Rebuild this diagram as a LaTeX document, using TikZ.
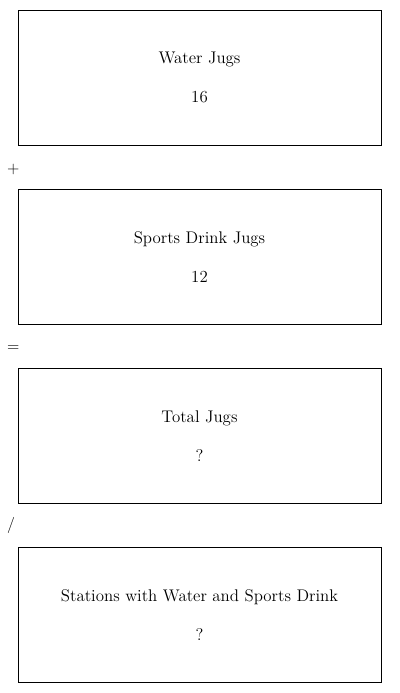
\documentclass[tikz,border=0pt]{standalone}
\usetikzlibrary{positioning,calc}
\tikzset{
  jugbox/.style   = {rectangle, draw=black, line width=0.7pt, outer sep=0pt,
                     minimum width=9.075cm, minimum height=3.375cm, inner sep=0pt},
  jugtitle/.style = {font=\fontsize{12}{14}\selectfont, inner sep=1pt},
  jugval/.style   = {font=\fontsize{12}{14}\selectfont, inner sep=1pt},
  opsign/.style   = {font=\fontsize{11.5}{13}\selectfont, anchor=west, inner sep=0pt},
}

\begin{document}
\begin{tikzpicture}
\useasboundingbox (0,0) rectangle (10,-17.325);
% four boxes, one under the other
\node[jugbox] (water)  at (4.9875,-1.9375) {};
\node[jugbox, below=1.1cm of water]  (sports)   {};
\node[jugbox, below=1.1cm of sports] (total)    {};
\node[jugbox, below=1.1cm of total]  (stations) {};
% texts inside
\foreach \b/\t/\v in {water/Water Jugs/16, sports/Sports Drink Jugs/12,
                      total/Total Jugs/?, stations/Stations with Water and Sports Drink/?} {
  \node[jugtitle] (\b-title) at ([yshift=0.44cm]\b.center) {\t};
  \node[jugval]   (\b-val)   at ([yshift=-0.5cm]\b.center) {\v};
}
% operators in the gaps
\node[opsign] (plus)  at ($(water.south west)!0.55!(sports.north west)-(0.28,0)$) {+};
\node[opsign] (equal) at ($(sports.south west)!0.55!(total.north west)-(0.28,0)$) {=};
\node[opsign] (divide) at ($(total.south west)!0.5!(stations.north west)-(0.28,0)$) {/};
\end{tikzpicture}
\end{document}
